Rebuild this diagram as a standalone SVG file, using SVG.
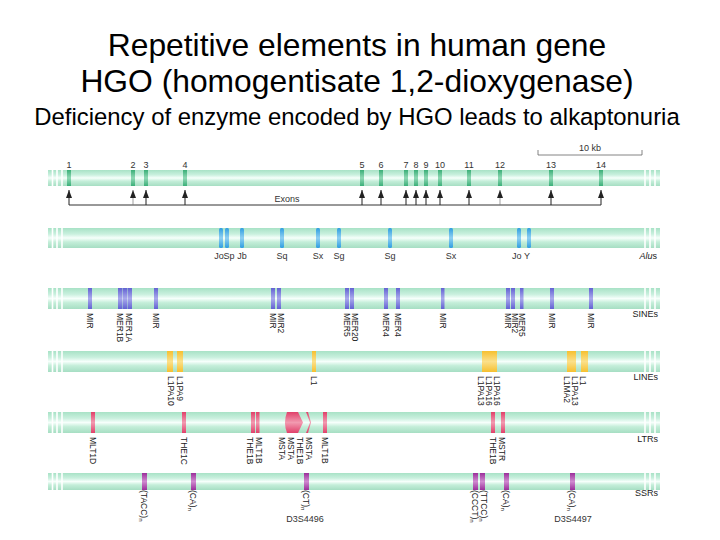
<svg xmlns="http://www.w3.org/2000/svg" width="720" height="540" viewBox="0 0 720 540">
<defs>
<linearGradient id="bar" x1="0" y1="0" x2="0" y2="1">
<stop offset="0" stop-color="#a8e2c6"/><stop offset="0.3" stop-color="#c9f0de"/><stop offset="0.5" stop-color="#f6fffb"/><stop offset="0.7" stop-color="#c4eed9"/><stop offset="1" stop-color="#a6dec3"/>
</linearGradient>
<linearGradient id="gEx" x1="0" y1="0" x2="0" y2="1"><stop offset="0" stop-color="#3aaf78"/><stop offset="0.5" stop-color="#8fd8b4"/><stop offset="1" stop-color="#3aaf78"/></linearGradient>
<linearGradient id="gAlu" x1="0" y1="0" x2="0" y2="1"><stop offset="0" stop-color="#2f9ee0"/><stop offset="0.5" stop-color="#8fd0f2"/><stop offset="1" stop-color="#2f9ee0"/></linearGradient>
<linearGradient id="gSine" x1="0" y1="0" x2="0" y2="1"><stop offset="0" stop-color="#6262d2"/><stop offset="0.5" stop-color="#a9a9ec"/><stop offset="1" stop-color="#6262d2"/></linearGradient>
<linearGradient id="gLine" x1="0" y1="0" x2="0" y2="1"><stop offset="0" stop-color="#f6c030"/><stop offset="0.5" stop-color="#fbe08a"/><stop offset="1" stop-color="#f6c030"/></linearGradient>
<linearGradient id="gLtr" x1="0" y1="0" x2="0" y2="1"><stop offset="0" stop-color="#e0406a"/><stop offset="0.5" stop-color="#f29ab0"/><stop offset="1" stop-color="#e0406a"/></linearGradient>
<linearGradient id="gSsr" x1="0" y1="0" x2="0" y2="1"><stop offset="0" stop-color="#9a2f9a"/><stop offset="0.5" stop-color="#d08ad0"/><stop offset="1" stop-color="#9a2f9a"/></linearGradient>
<marker id="ah" viewBox="0 0 8 6" refX="8" refY="3" markerWidth="8" markerHeight="6" markerUnits="userSpaceOnUse" orient="auto">
<path d="M0,0 L8,3 L0,6 Z" fill="#222"/>
</marker>
<style>
.title{font-family:"Liberation Sans",Arial,sans-serif;font-size:31.8px;fill:#000;text-anchor:middle}
.sub{font-family:"Liberation Sans",Arial,sans-serif;font-size:23.9px;fill:#000;text-anchor:middle}
.lab{font-family:"Liberation Sans",Arial,sans-serif;font-size:8.5px;fill:#222}
.num{font-family:"Liberation Sans",Arial,sans-serif;font-size:9px;fill:#333;text-anchor:middle}
.rt{font-family:"Liberation Sans",Arial,sans-serif;font-size:9px;fill:#222;text-anchor:end}
.fade{stroke:#fff;stroke-width:1.6}
.ex{fill:url(#gEx)}
.alu{fill:url(#gAlu)}
.sine{fill:url(#gSine)}
.line{fill:url(#gLine)}
.ltr{fill:url(#gLtr)}
.ssr{fill:url(#gSsr)}
.arr{stroke:#222;stroke-width:1;fill:none}
.arr2{stroke:#777;stroke-width:0.7;fill:none}
</style>
</defs>
<rect width="720" height="540" fill="#fff"/>
<g id="title">
<text class="title" x="357" y="56">Repetitive elements in human gene</text>
<text class="title" x="357" y="92">HGO (homogentisate 1,2-dioxygenase)</text>
<text class="sub" x="357" y="125">Deficiency of enzyme encoded by HGO leads to alkaptonuria</text>
</g>

<g id="scale">
<path d="M538,150 V155 H642 V150" stroke="#666" stroke-width="0.8" fill="none"/>
<text class="num" x="590" y="151">10 kb</text>
</g>

<g id="exons">
<rect x="48" y="170" width="612" height="16" fill="url(#bar)"/>
<line class="fade" x1="52.5" y1="169" x2="52.5" y2="187"/><line class="fade" x1="57" y1="169" x2="57" y2="187"/><line class="fade" x1="62" y1="169" x2="62" y2="187"/>
<line class="fade" x1="645" y1="169" x2="645" y2="187"/><line class="fade" x1="650" y1="169" x2="650" y2="187"/><line class="fade" x1="655" y1="169" x2="655" y2="187"/>
<g class="ex">
<rect x="67" y="170" width="4" height="16"/><rect x="131" y="170" width="4" height="16"/><rect x="144" y="170" width="4" height="16"/><rect x="183" y="170" width="4" height="16"/><rect x="360" y="170" width="4" height="16"/><rect x="379" y="170" width="4" height="16"/><rect x="404" y="170" width="4" height="16"/><rect x="414" y="170" width="4" height="16"/><rect x="424" y="170" width="4" height="16"/><rect x="438" y="170" width="4" height="16"/><rect x="467" y="170" width="4" height="16"/><rect x="498" y="170" width="4" height="16"/><rect x="549" y="170" width="4" height="16"/><rect x="599" y="170" width="4" height="16"/>
</g>
<g>
<text class="num" x="69" y="168">1</text><text class="num" x="133" y="168">2</text><text class="num" x="146" y="168">3</text><text class="num" x="185" y="168">4</text><text class="num" x="362" y="168">5</text><text class="num" x="381" y="168">6</text><text class="num" x="406" y="168">7</text><text class="num" x="416" y="168">8</text><text class="num" x="426" y="168">9</text><text class="num" x="440" y="168">10</text><text class="num" x="469" y="168">11</text><text class="num" x="500" y="168">12</text><text class="num" x="551" y="168">13</text><text class="num" x="601" y="168">14</text>
</g>
<text class="num" x="287" y="202">Exons</text>
</g>

<g id="connectors">
<line x1="69" y1="205" x2="601" y2="205" stroke="#333" stroke-width="1"/>
<line class="arr" x1="69" y1="205" x2="69" y2="190" marker-end="url(#ah)"/>
<line class="arr2" x1="133" y1="205" x2="133" y2="190" marker-end="url(#ah)"/>
<line class="arr" x1="146" y1="205" x2="146" y2="190" marker-end="url(#ah)"/>
<line class="arr" x1="185" y1="205" x2="185" y2="190" marker-end="url(#ah)"/>
<line class="arr" x1="362" y1="205" x2="362" y2="190" marker-end="url(#ah)"/>
<line class="arr" x1="381" y1="205" x2="381" y2="190" marker-end="url(#ah)"/>
<line class="arr" x1="406" y1="205" x2="406" y2="190" marker-end="url(#ah)"/>
<line class="arr" x1="416" y1="205" x2="416" y2="190" marker-end="url(#ah)"/>
<line class="arr" x1="426" y1="205" x2="426" y2="190" marker-end="url(#ah)"/>
<line class="arr" x1="440" y1="205" x2="440" y2="190" marker-end="url(#ah)"/>
<line class="arr" x1="469" y1="205" x2="469" y2="190" marker-end="url(#ah)"/>
<line class="arr2" x1="500" y1="205" x2="500" y2="190" marker-end="url(#ah)"/>
<line class="arr" x1="551" y1="205" x2="551" y2="190" marker-end="url(#ah)"/>
<line class="arr" x1="601" y1="205" x2="601" y2="190" marker-end="url(#ah)"/>
</g>

<g id="alus">
<rect x="48" y="228" width="612" height="20" fill="url(#bar)"/>
<line class="fade" x1="52.5" y1="227" x2="52.5" y2="249"/><line class="fade" x1="57" y1="227" x2="57" y2="249"/><line class="fade" x1="62" y1="227" x2="62" y2="249"/>
<line class="fade" x1="645" y1="227" x2="645" y2="249"/><line class="fade" x1="650" y1="227" x2="650" y2="249"/><line class="fade" x1="655" y1="227" x2="655" y2="249"/>
<g class="alu">
<rect x="219" y="228" width="4" height="20" rx="1.5"/><rect x="225" y="228" width="4" height="20" rx="1.5"/><rect x="240" y="228" width="4" height="20" rx="1.5"/><rect x="280" y="228" width="4" height="20" rx="1.5"/><rect x="316" y="228" width="4" height="20" rx="1.5"/><rect x="337" y="228" width="4" height="20" rx="1.5"/><rect x="388" y="228" width="4" height="20" rx="1.5"/><rect x="449" y="228" width="4" height="20" rx="1.5"/><rect x="517" y="228" width="4" height="20" rx="1.5"/><rect x="527" y="228" width="4" height="20" rx="1.5"/>
</g>
<text class="num" x="219" y="259">Jo</text><text class="num" x="229" y="259">Sp</text><text class="num" x="242" y="259">Jb</text>
<text class="num" x="282" y="259">Sq</text><text class="num" x="318" y="259">Sx</text><text class="num" x="339" y="259">Sg</text><text class="num" x="390" y="259">Sg</text><text class="num" x="451" y="259">Sx</text><text class="num" x="521" y="259">Jo Y</text>
<text class="rt" x="657" y="259"><tspan font-style="italic">Alu</tspan>s</text>
</g>

<g id="sines">
<rect x="48" y="288" width="612" height="21" fill="url(#bar)"/>
<line class="fade" x1="52.5" y1="287" x2="52.5" y2="310"/><line class="fade" x1="57" y1="287" x2="57" y2="310"/><line class="fade" x1="62" y1="287" x2="62" y2="310"/>
<line class="fade" x1="645" y1="287" x2="645" y2="310"/><line class="fade" x1="650" y1="287" x2="650" y2="310"/><line class="fade" x1="655" y1="287" x2="655" y2="310"/>
<g class="sine">
<rect x="88" y="288" width="4" height="21"/><rect x="118" y="288" width="4.5" height="21"/><rect x="123" y="288" width="4.5" height="21"/><rect x="128" y="288" width="4" height="21"/><rect x="154" y="288" width="4" height="21"/><rect x="271" y="288" width="4" height="21"/><rect x="277" y="288" width="4" height="21"/><rect x="345" y="288" width="4" height="21"/><rect x="350" y="288" width="4" height="21"/><rect x="384" y="288" width="4" height="21"/><rect x="396" y="288" width="4" height="21"/><rect x="441" y="288" width="3.5" height="21"/><rect x="506" y="288" width="4" height="21"/><rect x="511" y="288" width="4" height="21"/><rect x="520" y="288" width="3.5" height="21"/><rect x="550" y="288" width="4" height="21"/><rect x="589" y="288" width="4" height="21"/>
</g>
<g class="lab">
<text transform="translate(87,313) rotate(90)">MIR</text>
<text transform="translate(117,313) rotate(90)">MER1B</text>
<text transform="translate(126,313) rotate(90)">MER1A</text>
<text transform="translate(153,313) rotate(90)">MIR</text>
<text transform="translate(270,313) rotate(90)">MIR</text>
<text transform="translate(278,313) rotate(90)">MIR2</text>
<text transform="translate(344,313) rotate(90)">MER5</text>
<text transform="translate(352,313) rotate(90)">MER20</text>
<text transform="translate(383,313) rotate(90)">MER4</text>
<text transform="translate(395,313) rotate(90)">MER4</text>
<text transform="translate(440,313) rotate(90)">MIR</text>
<text transform="translate(505,313) rotate(90)">MIR</text>
<text transform="translate(512,313) rotate(90)">MIR2</text>
<text transform="translate(519,313) rotate(90)">MER5</text>
<text transform="translate(549,313) rotate(90)">MIR</text>
<text transform="translate(588,313) rotate(90)">MIR</text>
</g>
<text class="rt" x="658" y="317">SINEs</text>
</g>

<g id="lines">
<rect x="48" y="351" width="612" height="21" fill="url(#bar)"/>
<line class="fade" x1="52.5" y1="350" x2="52.5" y2="373"/><line class="fade" x1="57" y1="350" x2="57" y2="373"/><line class="fade" x1="62" y1="350" x2="62" y2="373"/>
<line class="fade" x1="645" y1="350" x2="645" y2="373"/><line class="fade" x1="650" y1="350" x2="650" y2="373"/><line class="fade" x1="655" y1="350" x2="655" y2="373"/>
<g class="line">
<rect x="167" y="351" width="6" height="21"/><rect x="177" y="351" width="6" height="21"/><rect x="312" y="351" width="4" height="21"/><rect x="482" y="351" width="15" height="21"/><rect x="567" y="351" width="9" height="21"/><rect x="581" y="351" width="7" height="21"/>
</g>
<g class="lab">
<text transform="translate(168,376) rotate(90)">L1PA10</text>
<text transform="translate(177,376) rotate(90)">L1PA9</text>
<text transform="translate(311,376) rotate(90)">L1</text>
<text transform="translate(478,376) rotate(90)">L1PA13</text>
<text transform="translate(486,376) rotate(90)">L1PA16</text>
<text transform="translate(494,376) rotate(90)">L1PA16</text>
<text transform="translate(564,376) rotate(90)">L1MA2</text>
<text transform="translate(572,376) rotate(90)">L1PA13</text>
<text transform="translate(580,376) rotate(90)">L1</text>
</g>
<text class="rt" x="658" y="380">LINEs</text>
</g>

<g id="ltrs">
<rect x="48" y="412" width="612" height="21" fill="url(#bar)"/>
<line class="fade" x1="52.5" y1="411" x2="52.5" y2="434"/><line class="fade" x1="57" y1="411" x2="57" y2="434"/><line class="fade" x1="62" y1="411" x2="62" y2="434"/>
<line class="fade" x1="645" y1="411" x2="645" y2="434"/><line class="fade" x1="650" y1="411" x2="650" y2="434"/><line class="fade" x1="655" y1="411" x2="655" y2="434"/>
<g class="ltr">
<rect x="91" y="412" width="4" height="21"/><rect x="182" y="412" width="4" height="21"/><rect x="251" y="412" width="4" height="21"/><rect x="256" y="412" width="3.5" height="21"/>
<path d="M287,412 H298 L303,422.5 L298,433 H287 Q283,422.5 287,412 Z"/>
<path d="M306,412 L310,422.5 L306,433 H308 L311,422.5 L308,412 Z"/>
<rect x="323" y="412" width="4" height="21"/><rect x="491" y="412" width="4" height="21"/><rect x="501" y="412" width="4" height="21"/>
</g>
<g class="lab">
<text transform="translate(90,437) rotate(90)">MLT1D</text>
<text transform="translate(181,437) rotate(90)">THE1C</text>
<text transform="translate(247,437) rotate(90)">THE1B</text>
<text transform="translate(256,437) rotate(90)">MLT1B</text>
<text transform="translate(279,437) rotate(90)">MSTA</text>
<text transform="translate(288,437) rotate(90)">MSTA</text>
<text transform="translate(297,437) rotate(90)">THE1B</text>
<text transform="translate(306,437) rotate(90)">MSTA</text>
<text transform="translate(322,437) rotate(90)">MLT1B</text>
<text transform="translate(490,437) rotate(90)">THE1B</text>
<text transform="translate(499,437) rotate(90)">MSTR</text>
</g>
<text class="rt" x="658" y="442">LTRs</text>
</g>

<g id="ssrs">
<rect x="48" y="473" width="612" height="17" fill="url(#bar)"/>
<line class="fade" x1="52.5" y1="472" x2="52.5" y2="491"/><line class="fade" x1="57" y1="472" x2="57" y2="491"/><line class="fade" x1="62" y1="472" x2="62" y2="491"/>
<line class="fade" x1="645" y1="472" x2="645" y2="491"/><line class="fade" x1="650" y1="472" x2="650" y2="491"/><line class="fade" x1="655" y1="472" x2="655" y2="491"/>
<g class="ssr">
<rect x="142" y="473" width="5" height="17"/><rect x="191" y="473" width="5" height="17"/><rect x="304" y="473" width="5" height="17"/><rect x="473" y="473" width="5" height="17"/><rect x="480" y="473" width="5" height="17"/><rect x="504" y="473" width="5" height="17"/><rect x="570" y="473" width="5" height="17"/>
</g>
<g class="lab">
<text transform="translate(141,490) rotate(90)">(TACC)<tspan font-size="6" dy="2">n</tspan></text>
<text transform="translate(190,490) rotate(90)">(CA)<tspan font-size="6" dy="2">n</tspan></text>
<text transform="translate(303,490) rotate(90)">(CT)<tspan font-size="6" dy="2">n</tspan></text>
<text transform="translate(472,490) rotate(90)">(CCCT)<tspan font-size="6" dy="2">n</tspan></text>
<text transform="translate(481,490) rotate(90)">(TTCC)<tspan font-size="6" dy="2">n</tspan></text>
<text transform="translate(503,490) rotate(90)">(CA)<tspan font-size="6" dy="2">n</tspan></text>
<text transform="translate(569,490) rotate(90)">(CA)<tspan font-size="6" dy="2">n</tspan></text>
</g>
<text class="num" x="305" y="522">D3S4496</text>
<text class="num" x="573" y="522">D3S4497</text>
<text class="rt" x="658" y="496">SSRs</text>
</g>
</svg>
